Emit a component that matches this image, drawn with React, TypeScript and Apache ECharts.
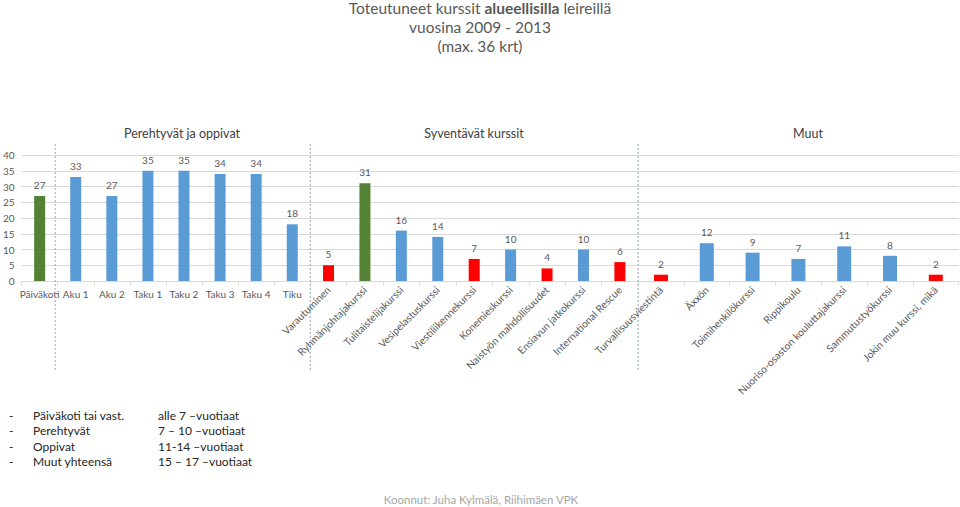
import React, { useEffect, useRef } from "react";
import * as echarts from "echarts";

const groupA = ["Päiväkoti", "Aku 1", "Aku 2", "Taku 1", "Taku 2", "Taku 3", "Taku 4", "Tiku"];
const valuesA = [27, 33, 27, 35, 35, 34, 34, 18];
const colorsA = ["green", "blue", "blue", "blue", "blue", "blue", "blue", "blue"];

const groupB = [
  "Varautuminen",
  "Ryhmänjohtajakurssi",
  "Tulitaistelijakurssi",
  "Vesipelastuskurssi",
  "Viestiliikennekurssi",
  "Konemieskurssi",
  "Naistyön mahdollisuudet",
  "Ensiavun jatkokurssi",
  "International Rescue",
];
const valuesB = [5, 31, 16, 14, 7, 10, 4, 10, 6];
const colorsB = ["red", "green", "blue", "blue", "red", "blue", "red", "blue", "red"];

const groupC = [
  "Turvallisuusviestintä",
  "Äxxön",
  "Toimihenkilökurssi",
  "Rippikoulu",
  "Nuoriso-osaston kouluttajakurssi",
  "Sammutustyökurssi",
  "Jokin muu kurssi, mikä",
];
const valuesC = [2, 12, 9, 7, 11, 8, 2];
const colorsC = ["red", "blue", "blue", "blue", "blue", "blue", "red"];

const sectionTitles = ["Perehtyvät ja oppivat", "Syventävät kurssit", "Muut"];

const notesLeft = ["Päiväkoti tai vast.", "Perehtyvät", "Oppivat", "Muut yhteensä"];
const notesRight = ["alle 7 –vuotiaat", "7 – 10 –vuotiaat", "11-14 –vuotiaat", "15 – 17 –vuotiaat"];

const palette: Record<string, string> = {
  blue: "#5B9BD5",
  green: "#548235",
  red: "#FF0000",
};

const FONT = "Lato, 'Open Sans', sans-serif";

export default function App() {
  const ref = useRef<HTMLDivElement>(null);

  useEffect(() => {
    if (!ref.current) return;
    const chart = echarts.init(ref.current, undefined, { renderer: "svg" });

    const top = 155;
    const height = 126;
    const grids = [
      { left: 18.8, width: 291.5, top, height },
      { left: 310.3, width: 327.8, top, height },
      { left: 638.1, width: 320.6, top, height },
    ];

    const cats = [groupA, groupB, groupC];
    const vals = [valuesA, valuesB, valuesC];
    const cols = [colorsA, colorsB, colorsC];
    const widths = [11, 11, 14];

    const xAxis = cats.map((c, i) => ({
      type: "category" as const,
      gridIndex: i,
      data: c,
      axisLine: { lineStyle: { color: "#D9D9D9" } },
      axisTick: { show: true, length: 4, lineStyle: { color: "#D9D9D9" } },
      axisLabel: {
        interval: 0,
        rotate: i === 0 ? 0 : 45,
        fontSize: i === 0 ? 10 : 10.3,
        fontFamily: FONT,
        color: "#595959",
        margin: i === 0 ? 8 : 7,
      },
    }));

    const yAxis = [0, 1, 2].map((i) => ({
      type: "value" as const,
      gridIndex: i,
      min: 0,
      max: 40,
      interval: 5,
      axisLine: { show: false },
      axisTick: { show: false },
      axisLabel: {
        show: i === 0,
        fontSize: 10,
        fontFamily: FONT,
        color: "#595959",
        margin: 7,
      },
      splitLine: { show: true, lineStyle: { color: "#D9D9D9", width: 1 } },
    }));

    const series = vals.map((v, i) => ({
      type: "bar" as const,
      xAxisIndex: i,
      yAxisIndex: i,
      barWidth: widths[i],
      data: v.map((val, j) => ({ value: val, itemStyle: { color: palette[cols[i][j]] } })),
      label: {
        show: true,
        position: "top" as const,
        distance: 6,
        fontSize: 10,
        fontFamily: FONT,
        color: "#595959",
      },
    }));

    const sepXs = [55.2, 310.3, 638.1];
    const sepLines = sepXs.map((x) => ({
      type: "line",
      shape: { x1: x, y1: 144, x2: x, y2: 371 },
      style: { stroke: "#9FB6CC", lineWidth: 1.2, lineDash: [2, 2] },
      silent: true,
      z: 10,
    }));

    const headerXs = [182, 474, 808];
    const headers = sectionTitles.map((t, i) => ({
      type: "text",
      x: headerXs[i],
      y: 133,
      style: {
        text: t,
        fontSize: 12.5,
        fontFamily: FONT,
        fill: "#404040",
        textAlign: "center",
        textVerticalAlign: "middle",
      },
    }));

    const lineYs = [415, 430.5, 446, 461.5];
    const notes: any[] = [];
    lineYs.forEach((y, i) => {
      notes.push({
        type: "text",
        x: 9,
        y,
        style: { text: "-", fontSize: 12, fontFamily: FONT, fill: "#262626", textVerticalAlign: "middle" },
      });
      notes.push({
        type: "text",
        x: 33,
        y,
        style: { text: notesLeft[i], fontSize: 12, fontFamily: FONT, fill: "#262626", textVerticalAlign: "middle" },
      });
      notes.push({
        type: "text",
        x: 158,
        y,
        style: { text: notesRight[i], fontSize: 12, fontFamily: FONT, fill: "#262626", textVerticalAlign: "middle" },
      });
    });

    const footer = {
      type: "text",
      x: 481,
      y: 499,
      style: {
        text: "Koonnut: Juha Kylmälä, Riihimäen VPK",
        fontSize: 11.5,
        fontFamily: FONT,
        fill: "#A6A6A6",
        textAlign: "center",
        textVerticalAlign: "middle",
      },
    };

    const titleBase = {
      left: "center",
      textStyle: { fontSize: 15.5, fontFamily: FONT, color: "#595959", fontWeight: "normal" as const },
      padding: 0,
    };

    chart.setOption({
      animation: false,
      title: [
        {
          ...titleBase,
          top: 0,
          text: "Toteutuneet kurssit {b|alueellisilla} leireillä",
          textStyle: {
            ...titleBase.textStyle,
            rich: { b: { fontSize: 15.5, fontFamily: FONT, color: "#595959", fontWeight: "bold" } },
          },
        },
        { ...titleBase, top: 19, text: "vuosina 2009 - 2013" },
        { ...titleBase, top: 38, text: "(max. 36 krt)" },
      ],
      grid: grids,
      xAxis,
      yAxis,
      series,
      graphic: [...sepLines, ...headers, ...notes, footer],
    });

    return () => chart.dispose();
  }, []);

  return (
    <div
      ref={ref}
      style={{ position: "fixed", left: 0, top: 0, width: 960, height: 507, background: "#fff" }}
    />
  );
}
